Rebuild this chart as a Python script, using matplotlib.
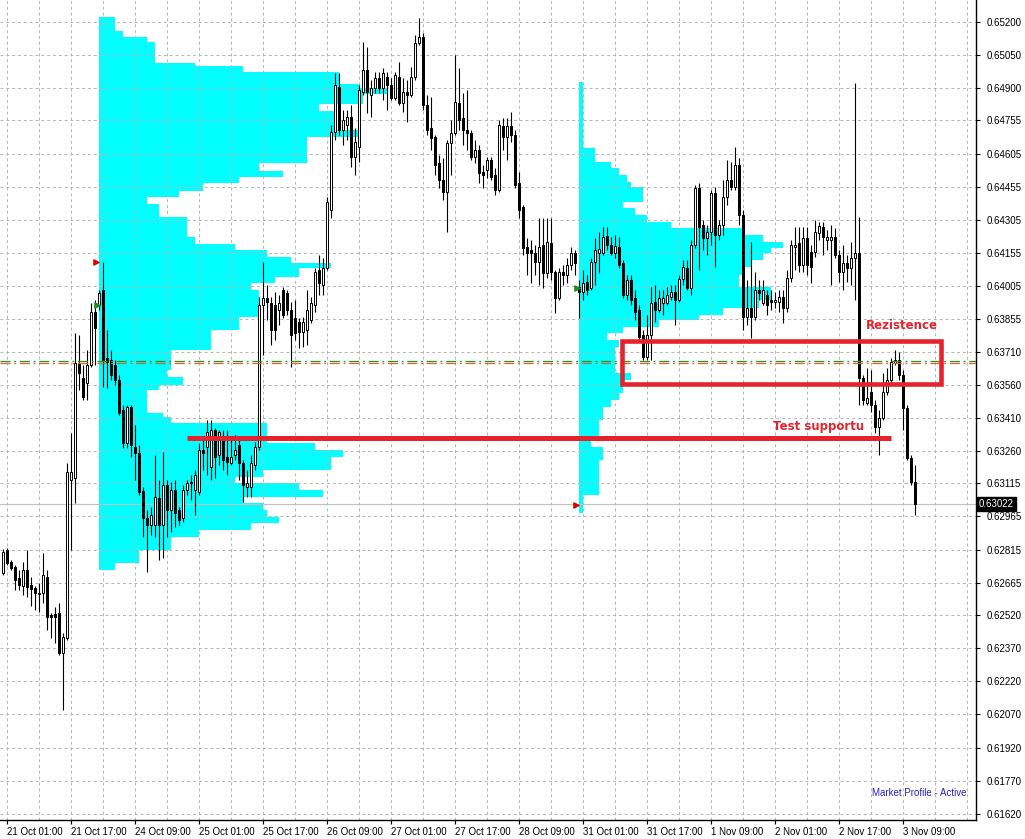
import numpy as np
import matplotlib
matplotlib.use("Agg")
import matplotlib.pyplot as plt
from matplotlib.patches import Rectangle

plt.rcParams['font.family'] = ['Liberation Sans', 'DejaVu Sans']

# hourly candles, 21 Oct 00:00 .. 3 Nov 12:00 (weekend skipped)
opens = [
    0.62709, 0.62813, 0.62759, 0.62736, 0.62686, 0.62650, 0.62723, 0.62655, 0.62641, 0.62614,
    0.62619, 0.62691, 0.62519, 0.62524, 0.62528, 0.62347, 0.62415, 0.63129, 0.63138, 0.63658,
    0.63590, 0.63568, 0.63649, 0.63889, 0.63920, 0.63988, 0.63681, 0.63672, 0.63649, 0.63581,
    0.63446, 0.63297, 0.63459, 0.63279, 0.63251, 0.63080, 0.62958, 0.62926, 0.62926, 0.63048,
    0.62926, 0.63107, 0.62994, 0.63084, 0.62994, 0.62958, 0.63084, 0.63116, 0.63084, 0.63075,
    0.63265, 0.63279, 0.63188, 0.63355, 0.63242, 0.63310, 0.63233, 0.63206, 0.63242, 0.63288,
    0.63206, 0.63098, 0.63098, 0.63197, 0.63279, 0.63920, 0.63952, 0.63929, 0.63920, 0.63898,
    0.63988, 0.63975, 0.63898, 0.63862, 0.63844, 0.63798, 0.63807, 0.63853, 0.63920, 0.64079,
    0.64011, 0.64088, 0.64350, 0.64702, 0.64906, 0.64711, 0.64734, 0.64770, 0.64589, 0.64635,
    0.64883, 0.64983, 0.64870, 0.64901, 0.64946, 0.64901, 0.64951, 0.64915, 0.64856, 0.64951,
    0.64833, 0.64883, 0.64870, 0.64951, 0.65105, 0.65132, 0.64824, 0.64720, 0.64680, 0.64562,
    0.64485, 0.64431, 0.64653, 0.64698, 0.64833, 0.64766, 0.64711, 0.64698, 0.64589, 0.64621,
    0.64522, 0.64531, 0.64576, 0.64508, 0.64440, 0.64729, 0.64680, 0.64729, 0.64689, 0.64472,
    0.64363, 0.64183, 0.64169, 0.64155, 0.64115, 0.64192, 0.64065, 0.64201, 0.64070, 0.63952,
    0.64070, 0.64056, 0.64101, 0.64155, 0.64002, 0.63979, 0.64024, 0.63997, 0.64115, 0.64155,
    0.64155, 0.64232, 0.64192, 0.64155, 0.64183, 0.64110, 0.63966, 0.64033, 0.63952, 0.63898,
    0.63785, 0.63685, 0.63785, 0.63934, 0.63898, 0.63929, 0.63929, 0.63957, 0.63979, 0.63943,
    0.64038, 0.64088, 0.63997, 0.64192, 0.64449, 0.64282, 0.64223, 0.64250, 0.64427, 0.64237,
    0.64282, 0.64409, 0.64485, 0.64454, 0.64553, 0.64327, 0.63866, 0.63907, 0.63866, 0.63988,
    0.63929, 0.63966, 0.63943, 0.63934, 0.63934, 0.63957, 0.63907, 0.64043, 0.64183, 0.64201,
    0.64101, 0.64223, 0.64160, 0.64160, 0.64246, 0.64273, 0.64214, 0.64214, 0.64228, 0.64146,
    0.64070, 0.64110, 0.64088, 0.64133, 0.64155, 0.63590, 0.63477, 0.63527, 0.63468, 0.63369,
    0.63410, 0.63527, 0.63581, 0.63658, 0.63672, 0.63604, 0.63455, 0.63229, 0.63120]
highs = [
    0.62818, 0.62822, 0.62768, 0.62745, 0.62723, 0.62759, 0.62813, 0.62691, 0.62650, 0.62664,
    0.62800, 0.62723, 0.62528, 0.62555, 0.62573, 0.62438, 0.63206, 0.63342, 0.63794, 0.63785,
    0.63649, 0.63717, 0.63929, 0.63943, 0.63988, 0.64115, 0.63807, 0.63717, 0.63672, 0.63604,
    0.63468, 0.63468, 0.63468, 0.63378, 0.63288, 0.63098, 0.62994, 0.63007, 0.63242, 0.63129,
    0.63256, 0.63129, 0.63120, 0.63129, 0.63007, 0.63107, 0.63129, 0.63152, 0.63175, 0.63297,
    0.63310, 0.63401, 0.63401, 0.63364, 0.63355, 0.63355, 0.63355, 0.63310, 0.63333, 0.63310,
    0.63220, 0.63175, 0.63242, 0.63301, 0.63957, 0.64115, 0.64011, 0.63957, 0.63979, 0.63966,
    0.64002, 0.63988, 0.63934, 0.63943, 0.63862, 0.63866, 0.63988, 0.63957, 0.64088, 0.64146,
    0.64133, 0.64409, 0.64734, 0.64969, 0.64969, 0.64802, 0.64802, 0.64824, 0.64720, 0.64915,
    0.65109, 0.65087, 0.64937, 0.64974, 0.64974, 0.64992, 0.64974, 0.64946, 0.64974, 0.65019,
    0.64946, 0.64937, 0.64996, 0.65141, 0.65218, 0.65150, 0.64870, 0.64861, 0.64689, 0.64598,
    0.64585, 0.64666, 0.64757, 0.65050, 0.64992, 0.64879, 0.64892, 0.64711, 0.64666, 0.64644,
    0.64553, 0.64589, 0.64589, 0.64540, 0.64757, 0.64766, 0.64766, 0.64793, 0.64711, 0.64522,
    0.64372, 0.64223, 0.64214, 0.64192, 0.64314, 0.64314, 0.64314, 0.64314, 0.64079, 0.64088,
    0.64101, 0.64133, 0.64183, 0.64169, 0.64033, 0.64079, 0.64056, 0.64133, 0.64223, 0.64250,
    0.64273, 0.64273, 0.64228, 0.64237, 0.64228, 0.64124, 0.64056, 0.64056, 0.63988, 0.63920,
    0.63807, 0.63875, 0.64002, 0.64011, 0.63988, 0.63988, 0.64002, 0.64011, 0.64011, 0.64056,
    0.64124, 0.64124, 0.64214, 0.64463, 0.64472, 0.64305, 0.64282, 0.64440, 0.64454, 0.64305,
    0.64485, 0.64576, 0.64567, 0.64635, 0.64585, 0.64350, 0.64033, 0.64205, 0.64070, 0.64033,
    0.64033, 0.63988, 0.63988, 0.63979, 0.63988, 0.63988, 0.64079, 0.64214, 0.64273, 0.64273,
    0.64273, 0.64273, 0.64192, 0.64305, 0.64296, 0.64296, 0.64259, 0.64282, 0.64269, 0.64169,
    0.64192, 0.64146, 0.64205, 0.64924, 0.64318, 0.63604, 0.63636, 0.63627, 0.63491, 0.63446,
    0.63613, 0.63636, 0.63681, 0.63717, 0.63708, 0.63627, 0.63468, 0.63242, 0.63197]
lows = [
    0.62700, 0.62745, 0.62723, 0.62632, 0.62632, 0.62610, 0.62601, 0.62560, 0.62542, 0.62533,
    0.62573, 0.62451, 0.62415, 0.62393, 0.62338, 0.62090, 0.62406, 0.62813, 0.63026, 0.63536,
    0.63491, 0.63491, 0.63640, 0.63649, 0.63898, 0.63550, 0.63545, 0.63581, 0.63559, 0.63423,
    0.63274, 0.63274, 0.63233, 0.63129, 0.63062, 0.62872, 0.62714, 0.62881, 0.62872, 0.62768,
    0.62777, 0.62872, 0.62894, 0.62917, 0.62926, 0.62940, 0.63062, 0.63039, 0.62971, 0.63062,
    0.63175, 0.63152, 0.63129, 0.63138, 0.63197, 0.63175, 0.63152, 0.63197, 0.63220, 0.63129,
    0.63030, 0.63053, 0.63053, 0.63175, 0.63265, 0.63694, 0.63853, 0.63740, 0.63762, 0.63830,
    0.63862, 0.63875, 0.63640, 0.63762, 0.63726, 0.63731, 0.63740, 0.63839, 0.63889, 0.63966,
    0.63966, 0.64079, 0.64314, 0.64666, 0.64689, 0.64644, 0.64666, 0.64544, 0.64508, 0.64567,
    0.64870, 0.64788, 0.64770, 0.64879, 0.64879, 0.64847, 0.64802, 0.64847, 0.64847, 0.64824,
    0.64793, 0.64748, 0.64861, 0.64937, 0.65096, 0.64802, 0.64689, 0.64621, 0.64508, 0.64449,
    0.64395, 0.64250, 0.64508, 0.64689, 0.64711, 0.64644, 0.64621, 0.64576, 0.64562, 0.64472,
    0.64449, 0.64494, 0.64485, 0.64418, 0.64431, 0.64621, 0.64576, 0.64657, 0.64449, 0.64314,
    0.64146, 0.64056, 0.64020, 0.64056, 0.64011, 0.63997, 0.64043, 0.64033, 0.63884, 0.63943,
    0.64011, 0.64020, 0.64079, 0.64056, 0.63862, 0.63943, 0.63966, 0.63988, 0.64011, 0.64065,
    0.64146, 0.64169, 0.64146, 0.64133, 0.64088, 0.63952, 0.63943, 0.63920, 0.63853, 0.63762,
    0.63672, 0.63672, 0.63672, 0.63844, 0.63889, 0.63875, 0.63920, 0.63943, 0.63830, 0.63934,
    0.64011, 0.63988, 0.63966, 0.64178, 0.64079, 0.64169, 0.64146, 0.64192, 0.64092, 0.64214,
    0.64237, 0.64372, 0.64440, 0.64440, 0.64282, 0.63807, 0.63830, 0.63771, 0.63853, 0.63943,
    0.63920, 0.63875, 0.63898, 0.63907, 0.63889, 0.63839, 0.63889, 0.64024, 0.64079, 0.64070,
    0.64070, 0.64056, 0.64020, 0.64137, 0.64214, 0.64146, 0.64169, 0.64011, 0.64133, 0.64024,
    0.63988, 0.64024, 0.64011, 0.63943, 0.63468, 0.63468, 0.63468, 0.63437, 0.63342, 0.63242,
    0.63401, 0.63514, 0.63559, 0.63649, 0.63581, 0.63355, 0.63220, 0.63107, 0.62971]
closes = [
    0.62804, 0.62754, 0.62732, 0.62677, 0.62655, 0.62723, 0.62646, 0.62637, 0.62619, 0.62619,
    0.62700, 0.62510, 0.62510, 0.62510, 0.62347, 0.62420, 0.63166, 0.63166, 0.63658, 0.63613,
    0.63505, 0.63649, 0.63889, 0.63816, 0.63975, 0.63672, 0.63663, 0.63604, 0.63581, 0.63432,
    0.63297, 0.63459, 0.63288, 0.63251, 0.63075, 0.62958, 0.62926, 0.62971, 0.63053, 0.62926,
    0.63107, 0.62994, 0.63084, 0.62980, 0.62949, 0.63084, 0.63116, 0.63120, 0.63152, 0.63265,
    0.63251, 0.63346, 0.63355, 0.63233, 0.63346, 0.63220, 0.63211, 0.63233, 0.63265, 0.63206,
    0.63107, 0.63116, 0.63206, 0.63279, 0.63920, 0.63952, 0.63934, 0.63807, 0.63807, 0.63929,
    0.63875, 0.63898, 0.63785, 0.63794, 0.63798, 0.63844, 0.63898, 0.63929, 0.64070, 0.64020,
    0.64088, 0.64386, 0.64702, 0.64915, 0.64711, 0.64757, 0.64770, 0.64589, 0.64657, 0.64892,
    0.64983, 0.64883, 0.64901, 0.64946, 0.64901, 0.64969, 0.64915, 0.64856, 0.64960, 0.64833,
    0.64883, 0.64870, 0.64951, 0.65105, 0.65132, 0.64824, 0.64711, 0.64675, 0.64553, 0.64485,
    0.64431, 0.64653, 0.64698, 0.64838, 0.64757, 0.64711, 0.64698, 0.64589, 0.64621, 0.64517,
    0.64508, 0.64576, 0.64499, 0.64440, 0.64734, 0.64680, 0.64729, 0.64689, 0.64463, 0.64350,
    0.64178, 0.64155, 0.64155, 0.64115, 0.64183, 0.64065, 0.64205, 0.64070, 0.63952, 0.64070,
    0.64056, 0.64101, 0.64155, 0.64110, 0.63979, 0.64020, 0.63988, 0.64115, 0.64169, 0.64174,
    0.64228, 0.64192, 0.64155, 0.64187, 0.64101, 0.63966, 0.64033, 0.63943, 0.63889, 0.63776,
    0.63685, 0.63785, 0.63929, 0.63898, 0.63952, 0.63952, 0.63966, 0.63979, 0.63943, 0.64038,
    0.64092, 0.63997, 0.64192, 0.64449, 0.64273, 0.64223, 0.64250, 0.64427, 0.64237, 0.64282,
    0.64409, 0.64485, 0.64454, 0.64553, 0.64327, 0.63866, 0.63907, 0.63866, 0.63988, 0.63975,
    0.63988, 0.63920, 0.63934, 0.63943, 0.63957, 0.63907, 0.64043, 0.64192, 0.64192, 0.64101,
    0.64223, 0.64101, 0.64092, 0.64250, 0.64278, 0.64228, 0.64228, 0.64228, 0.64146, 0.64070,
    0.64110, 0.64088, 0.64133, 0.64155, 0.63590, 0.63491, 0.63500, 0.63468, 0.63369, 0.63410,
    0.63527, 0.63581, 0.63663, 0.63672, 0.63604, 0.63455, 0.63229, 0.63120, 0.63022]

date_labels = ["21 Oct 01:00", "21 Oct 17:00", "24 Oct 09:00", "25 Oct 01:00", "25 Oct 17:00",
               "26 Oct 09:00", "27 Oct 01:00", "27 Oct 17:00", "28 Oct 09:00", "31 Oct 01:00",
               "31 Oct 17:00", "1 Nov 09:00", "2 Nov 01:00", "2 Nov 17:00", "3 Nov 09:00"]
price_ticks = [0.65200, 0.65050, 0.64900, 0.64755, 0.64605, 0.64455, 0.64305, 0.64155,
               0.64005, 0.63855, 0.63710, 0.63560, 0.63410, 0.63260, 0.63115, 0.62965,
               0.62815, 0.62665, 0.62520, 0.62370, 0.62220, 0.62070, 0.61920, 0.61770, 0.61620]

# market profile 1 (starts 24 Oct 00:00) - row edges from top and counts
prof1_start = 24
prof1_edges = [0.65222, 0.65159, 0.65132, 0.65109, 0.65014, 0.65001, 0.64974, 0.64920, 0.64902, 0.64875,
               0.64829, 0.64797, 0.64711, 0.64680, 0.64648, 0.64562, 0.64526, 0.64499, 0.64472, 0.64436,
               0.64409, 0.64377, 0.64318, 0.64228, 0.64196, 0.64169, 0.64137, 0.64110, 0.64088, 0.64047,
               0.64020, 0.63988, 0.63866, 0.63807, 0.63717, 0.63627, 0.63595, 0.63559, 0.63536, 0.63432,
               0.63414, 0.63387, 0.63297, 0.63265, 0.63233, 0.63175, 0.63143, 0.63116, 0.63084, 0.63053,
               0.63026, 0.62994, 0.62962, 0.62935, 0.62903, 0.62872, 0.62813, 0.62754, 0.62723]
prof1_counts = [4, 6, 12, 14, 24, 36, 60, 65, 72, 66,
                55, 59, 65, 52, 52, 40, 46, 35, 26, 20,
                12, 15, 22, 24, 34, 42, 48, 58, 50, 44,
                38, 40, 35, 28, 18, 17, 21, 15, 12, 16,
                18, 42, 54, 61, 58, 41, 34, 50, 56, 36,
                41, 42, 45, 38, 25, 18, 10, 4]

# market profile 2 (starts 31 Oct 00:00)
prof2_start = 144
prof2_edges = [0.64928, 0.64630, 0.64567, 0.64540, 0.64508, 0.64476, 0.64454, 0.64386, 0.64359, 0.64327,
               0.64296, 0.64269, 0.64237, 0.64205, 0.64178, 0.64155, 0.64124, 0.64092, 0.64056, 0.64002,
               0.63943, 0.63907, 0.63875, 0.63853, 0.63821, 0.63794, 0.63762, 0.63731, 0.63613, 0.63581,
               0.63523, 0.63491, 0.63459, 0.63401, 0.63324, 0.63279, 0.63220, 0.63161, 0.63062, 0.62980]
prof2_counts = [1, 4, 8, 10, 12, 13, 16, 11, 14, 17,
                23, 41, 46, 51, 48, 46, 43, 41, 40, 48,
                45, 36, 30, 20, 11, 7, 10, 9, 13, 11,
                10, 8, 6, 5, 3, 6, 5, 5, 1]

poc_green = 0.63667
poc_orange = 0.63658
last_price = 0.63022
support_price = 0.63319
support_bars = (46, 222)
resist_bars = (154.75, 234.5)
resist_prices = (0.63563, 0.63758)
red_arrow_bars = [23, 143]
red_arrow_prices = [0.64115, 0.63016]
green_arrow_bars = [23, 143]
green_arrow_prices = [0.63920, 0.63997]

opens, highs, lows, closes = map(np.array, (opens, highs, lows, closes))
bars = np.arange(len(closes))
RED = '#e6232d'

fig = plt.figure(figsize=(10.25, 8.39), dpi=100)
ax = fig.add_axes([0, 19 / 839, 976 / 1025, 820 / 839])
ax.set_xlim(-0.75, 243.25)
ax.set_ylim(0.65299 - 820 * 0.0000452, 0.65299)

# market profiles (background)
for start, edges, counts in ((prof1_start, prof1_edges, prof1_counts),
                             (prof2_start, prof2_edges, prof2_counts)):
    edges = np.array(edges)
    ax.barh(edges[1:], counts, height=edges[:-1] - edges[1:], left=start,
            align='edge', color='#00ffff', linewidth=0, zorder=1)

# grid
for p in price_ticks:
    ax.axhline(p, color='#b4b4b4', lw=0.7, ls=(0, (3, 3)), zorder=2)
for b in np.arange(1, 243, 8):
    ax.axvline(b, color='#b4b4b4', lw=0.7, ls=(0, (3, 3)), zorder=2)

ax.axhline(last_price, color='#c0c0c0', lw=0.8, zorder=2)

# candles
ax.vlines(bars, lows, highs, color='black', lw=0.8, zorder=3)
up = closes >= opens
ax.bar(bars[up], (closes - opens)[up], bottom=opens[up], width=0.6,
       facecolor='white', edgecolor='black', linewidth=0.7, zorder=4)
ax.bar(bars[~up], (opens - closes)[~up], bottom=closes[~up], width=0.6,
       facecolor='black', edgecolor='black', linewidth=0.7, zorder=4)

# POC lines
ax.axhline(poc_green, color='#2e8b2e', lw=0.9, ls=(0, (8, 3, 1.5, 3)), zorder=5)
ax.axhline(poc_orange, color='#d2691e', lw=0.9, ls=(0, (8, 3, 1.5, 3)), zorder=5)

ax.scatter(np.array(red_arrow_bars) + 0.3, red_arrow_prices, marker='>', s=14, color='#e00000', zorder=6)
ax.scatter(np.array(green_arrow_bars) + 0.5, green_arrow_prices, marker='>', s=14, color='#1a8c1a', zorder=6)

# annotations
ax.hlines(support_price, *support_bars, color=RED, lw=3.6, zorder=7)
ax.add_patch(Rectangle((resist_bars[0], resist_prices[0]), resist_bars[1] - resist_bars[0],
                       resist_prices[1] - resist_prices[0], fill=False, ec=RED, lw=3.3, zorder=7))
ax.text(224.75, 0.63830, "Rezistence", color=RED, fontsize=8.5, fontweight='bold',
        family='DejaVu Sans', ha='center', va='center', zorder=8)
ax.text(203.9, 0.63373, "Test supportu", color=RED, fontsize=8.5, fontweight='bold',
        family='DejaVu Sans', ha='center', va='center', zorder=8)
ax.text(967 / 976, 27 / 820, "Market Profile - Active", color='#2323c8', fontsize=7,
        transform=ax.transAxes, ha='right', va='center')

# axes
for s in ('left', 'top'):
    ax.spines[s].set_visible(False)
for s in ('right', 'bottom'):
    ax.spines[s].set_color('black')
    ax.spines[s].set_linewidth(1)

ax.yaxis.tick_right()
ax.set_yticks(price_ticks)
ax.set_yticklabels(["%.5f" % p for p in price_ticks])
ax.tick_params(axis='y', length=3, width=0.8, labelsize=7, pad=5)
ax.set_xticks(np.arange(len(date_labels)) * 16 + 1)
ax.set_xticklabels(date_labels)
ax.tick_params(axis='x', length=3, width=0.8, labelsize=7, pad=2)
for lbl in ax.get_xticklabels():
    lbl.set_ha('left')

ax.annotate("%.5f" % last_price, xy=(1, last_price), xycoords=('axes fraction', 'data'),
            xytext=(2, 0), textcoords='offset points', ha='left', va='center',
            fontsize=7, color='white', zorder=10,
            bbox=dict(boxstyle='square,pad=0.2', fc='black', ec='black'))

fig.savefig("out.png", dpi=100)
